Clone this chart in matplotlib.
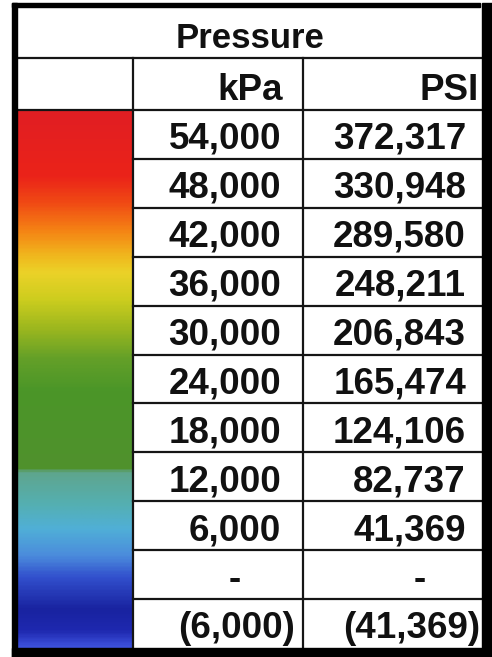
import numpy as np
import matplotlib
matplotlib.use("Agg")
import matplotlib.pyplot as plt
from matplotlib.colors import LinearSegmentedColormap
from matplotlib.patches import Rectangle

# ---- data ----
title = "Pressure"
headers = ["kPa", "PSI"]
kpa_labels = ["54,000", "48,000", "42,000", "36,000", "30,000", "24,000",
              "18,000", "12,000", "6,000", "-", "(6,000)"]
psi_labels = ["372,317", "330,948", "289,580", "248,211", "206,843", "165,474",
              "124,106", "82,737", "41,369", "-", "(41,369)"]

# colour ramp stops (relative position from top, RGB)
ramp_pos = [0.00, 0.12, 0.17, 0.22, 0.27, 0.30, 0.35, 0.40, 0.46, 0.52,
            0.668, 0.672, 0.73, 0.78, 0.83, 0.87, 0.93, 0.97, 1.00]
ramp_rgb = [(225, 30, 35), (235, 35, 25), (240, 75, 20), (245, 130, 20),
            (240, 185, 30), (235, 210, 40), (205, 205, 30), (160, 185, 30),
            (100, 160, 40), (75, 150, 40), (80, 145, 45), (95, 165, 140),
            (85, 175, 175), (80, 175, 215), (75, 140, 220), (50, 80, 205),
            (25, 35, 160), (30, 40, 175), (60, 80, 220)]

W, H = 492, 657
DPI = 100
fig = plt.figure(figsize=(W / DPI, H / DPI), dpi=DPI)
ax = fig.add_axes([0, 0, 1, 1])
ax.set_xlim(0, W)
ax.set_ylim(H, 0)
ax.axis("off")

FONT = "Liberation Sans"
line_c = "#151515"

# layout
x_left, x_c1, x_c2, x_right = 15, 133, 303, 483
y_top, y_title, y_head, y_bot = 6, 58, 110, 648
n = len(kpa_labels)
row_h = (y_bot - y_head) / n

# colour bar
cmap = LinearSegmentedColormap.from_list(
    "ramp", [(p, tuple(c / 255 for c in rgb)) for p, rgb in zip(ramp_pos, ramp_rgb)])
grad = np.linspace(0, 1, 400).reshape(-1, 1)
ax.imshow(grad, cmap=cmap, aspect="auto", extent=(18, x_c1, y_bot, y_head + 1),
          origin="upper", interpolation="bilinear", zorder=1)

# inner grid lines
lw = 1.6
ax.plot([x_left, x_right], [y_title, y_title], color=line_c, lw=lw, zorder=3)
ax.plot([x_left, x_right], [y_head, y_head], color=line_c, lw=lw, zorder=3)
for i in range(1, n):
    y = y_head + i * row_h
    ax.plot([x_c1, x_right], [y, y], color=line_c, lw=lw, zorder=3)
for x in (x_c1, x_c2):
    ax.plot([x, x], [y_title, y_bot], color=line_c, lw=lw, zorder=3)

# outer frame (filled bars)
ax.add_patch(Rectangle((12, 3), 480 - 12, 4, color="black", zorder=4))
ax.add_patch(Rectangle((12, 3), 5, H - 3, color="black", zorder=4))
ax.add_patch(Rectangle((482, 3), 10, H - 3, color="black", zorder=4))
ax.add_patch(Rectangle((12, 648), 480, 9, color="black", zorder=4))

fs = 26.5
kw = dict(fontfamily=FONT, fontweight="bold", fontsize=fs, color="#111111", zorder=5)

ax.text((x_left + x_right) / 2 + 1, y_title - 10, title, ha="center", va="baseline",
        **{**kw, "fontsize": 25})
ax.text(x_c2 - 20, y_head - 10, headers[0], ha="right", va="baseline", **kw)
ax.text(x_right - 4, y_head - 10, headers[1], ha="right", va="baseline", **kw)

for i, (a, b) in enumerate(zip(kpa_labels, psi_labels)):
    base = y_head + (i + 1) * row_h - 10
    for lab, right in ((a, x_c2 - 22), (b, x_right - 17)):
        if lab.startswith("("):
            ax.text(right + 14, base, lab, ha="right", va="baseline", **kw)
        elif lab == "-":
            ax.text(right - 46, base, lab, ha="center", va="baseline", **kw)
        else:
            ax.text(right, base, lab, ha="right", va="baseline", **kw)

fig.savefig("out.png", dpi=DPI)
